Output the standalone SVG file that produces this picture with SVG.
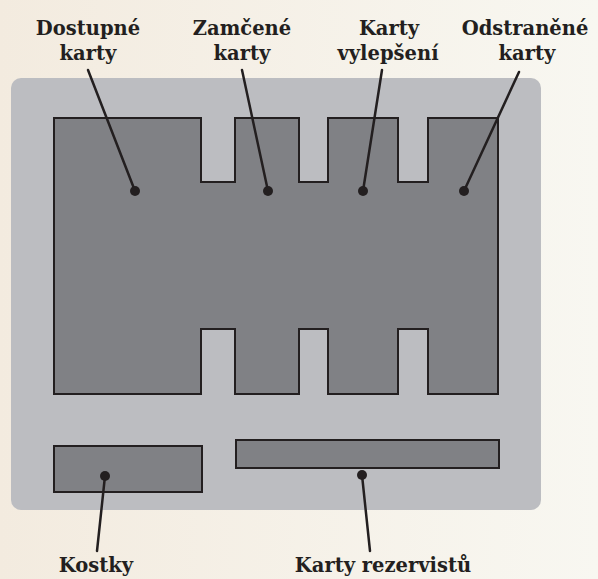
<svg xmlns="http://www.w3.org/2000/svg" width="598" height="579" viewBox="0 0 598 579">
<defs>
<linearGradient id="bg" x1="0" y1="0" x2="1" y2="0">
<stop offset="0" stop-color="#f3ebdf"/>
<stop offset="1" stop-color="#f8f7f1"/>
</linearGradient>
</defs>
<style>
.lbl{font-family:"DejaVu Serif","Liberation Serif",serif;font-weight:bold;font-size:19.5px;fill:#231f20;text-anchor:middle}
.zone{fill:#808185;stroke:#231f20;stroke-width:2}
.lead{stroke:#231f20;stroke-width:2.5;fill:none;stroke-linecap:round}
.dot{fill:#231f20}
</style>
<rect width="598" height="579" fill="url(#bg)"/>
<rect x="11" y="78" width="530" height="432" rx="10" fill="#bcbdc1"/>
<g id="dostupne-karty">
<path class="zone" d="M54,118 H201 V182 H235 V118 H299 V182 H328 V118 H398 V182 H428 V118 H498 V394 H428 V329 H398 V394 H328 V329 H299 V394 H235 V329 H201 V394 H54 Z"/>
</g>
<g id="kostky">
<rect class="zone" x="54" y="446" width="148" height="46"/>
</g>
<g id="karty-rezervistu">
<rect class="zone" x="236" y="440" width="263" height="28"/>
</g>
<g id="labels">
<text class="lbl" x="88" y="35">Dostupné</text>
<text class="lbl" x="88" y="60">karty</text>
<text class="lbl" x="242" y="35">Zamčené</text>
<text class="lbl" x="242" y="60">karty</text>
<text class="lbl" x="389" y="35">Karty</text>
<text class="lbl" x="388" y="60">vylepšení</text>
<text class="lbl" x="525" y="35">Odstraněné</text>
<text class="lbl" x="527" y="60">karty</text>
<text class="lbl" x="96" y="572">Kostky</text>
<text class="lbl" x="383" y="572">Karty rezervistů</text>
</g>
<g id="connectors">
<line class="lead" x1="88" y1="70" x2="135" y2="191"/>
<line class="lead" x1="242" y1="70" x2="268" y2="191"/>
<line class="lead" x1="382" y1="70" x2="363" y2="191"/>
<line class="lead" x1="519" y1="72" x2="464" y2="191"/>
<line class="lead" x1="105" y1="476" x2="97" y2="551"/>
<line class="lead" x1="362" y1="475" x2="370" y2="551"/>
<circle class="dot" cx="135" cy="191" r="5"/>
<circle class="dot" cx="268" cy="191" r="5"/>
<circle class="dot" cx="363" cy="191" r="5"/>
<circle class="dot" cx="464" cy="191" r="5"/>
<circle class="dot" cx="105" cy="476" r="5"/>
<circle class="dot" cx="362" cy="475" r="5"/>
</g>
</svg>
